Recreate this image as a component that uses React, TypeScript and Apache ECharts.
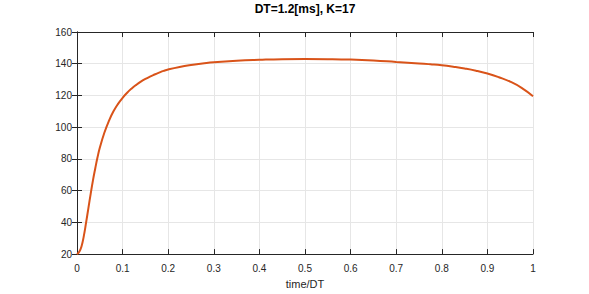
import React, { useEffect, useRef } from "react";
import * as echarts from "echarts";

const titleText = "DT=1.2[ms], K=17";
const xLabel = "time/DT";
const tVals = [
  0, 0.005, 0.01, 0.015, 0.02, 0.025, 0.03, 0.035, 0.04, 0.045, 0.05, 0.06, 0.07, 0.08, 0.09, 0.1,
  0.11, 0.12, 0.13, 0.14, 0.15, 0.16, 0.17, 0.18, 0.19, 0.2, 0.225, 0.25, 0.275, 0.3, 0.35, 0.4, 0.45, 0.5,
  0.55, 0.6, 0.65, 0.7, 0.75, 0.775, 0.8, 0.825, 0.85, 0.875, 0.9, 0.925, 0.95, 0.975, 1.0,
];
const yVals = [
  20, 21.5, 25, 31.5, 40, 49, 58, 66.5, 74, 81, 87, 96.5, 104, 110, 114.7, 118.5,
  121.7, 124.4, 126.7, 128.7, 130.4, 131.9, 133.2, 134.4, 135.5, 136.4, 138, 139.2, 140.1, 140.9, 141.9, 142.5, 142.9, 143,
  142.9, 142.6, 142, 141.1, 140.2, 139.65, 139, 138.1, 137, 135.6, 133.8, 131.5, 128.7, 124.8, 119.5,
];
const xMin = 0, xMax = 1, xStep = 0.1;
const yMin = 20, yMax = 160, yStep = 20;

const FONT = "'Liberation Sans', Helvetica, Arial, sans-serif";
const AX = "#262626";
const GRID = "#e6e6e6";

export default function App() {
  const ref = useRef<HTMLDivElement>(null);
  useEffect(() => {
    document.body.style.margin = "0";
    const chart = echarts.init(ref.current!, null, { renderer: "svg" });
    const data = tVals.map((t, i) => [t, yVals[i]]);
    const fmt = (v: number) => String(+v.toFixed(1));
    const baseX = {
      type: "value" as const,
      min: xMin,
      max: xMax,
      interval: xStep,
      axisLine: { show: true, lineStyle: { color: AX, width: 1 } },
      axisTick: { show: true, inside: true, length: 5, lineStyle: { color: AX } },
    };
    const baseY = {
      type: "value" as const,
      min: yMin,
      max: yMax,
      interval: yStep,
      axisLine: { show: true, lineStyle: { color: AX, width: 1 } },
      axisTick: { show: true, inside: true, length: 5, lineStyle: { color: AX } },
    };
    chart.setOption({
      animation: false,
      backgroundColor: "#ffffff",
      title: {
        text: titleText,
        left: 305,
        top: 3,
        padding: 0,
        textAlign: "center",
        textStyle: { fontFamily: FONT, fontSize: 12, fontWeight: "bold", color: "#000" },
      },
      grid: { left: 77, right: 56, top: 32, bottom: 33, containLabel: false },
      xAxis: [
        {
          ...baseX,
          position: "bottom",
          name: xLabel,
          nameLocation: "middle",
          nameGap: 21,
          nameTextStyle: { fontFamily: FONT, fontSize: 11, color: AX },
          axisLabel: { fontFamily: FONT, fontSize: 10, color: AX, margin: 9, formatter: fmt },
          splitLine: { show: true, lineStyle: { color: GRID, width: 1 } },
        },
        {
          ...baseX,
          position: "top",
          axisLabel: { show: false },
          splitLine: { show: false },
        },
      ],
      yAxis: [
        {
          ...baseY,
          position: "left",
          axisLabel: { fontFamily: FONT, fontSize: 10, color: AX, margin: 5 },
          splitLine: { show: true, lineStyle: { color: GRID, width: 1 } },
        },
        {
          ...baseY,
          position: "right",
          axisLabel: { show: false },
          splitLine: { show: false },
        },
      ],
      series: [
        {
          type: "line",
          data,
          xAxisIndex: 0,
          yAxisIndex: 0,
          smooth: 0.5,
          showSymbol: false,
          clip: false,
          lineStyle: { color: "#D95319", width: 2 },
        },
      ],
    });
    return () => chart.dispose();
  }, []);
  return <div ref={ref} style={{ width: 589, height: 294 }} />;
}
